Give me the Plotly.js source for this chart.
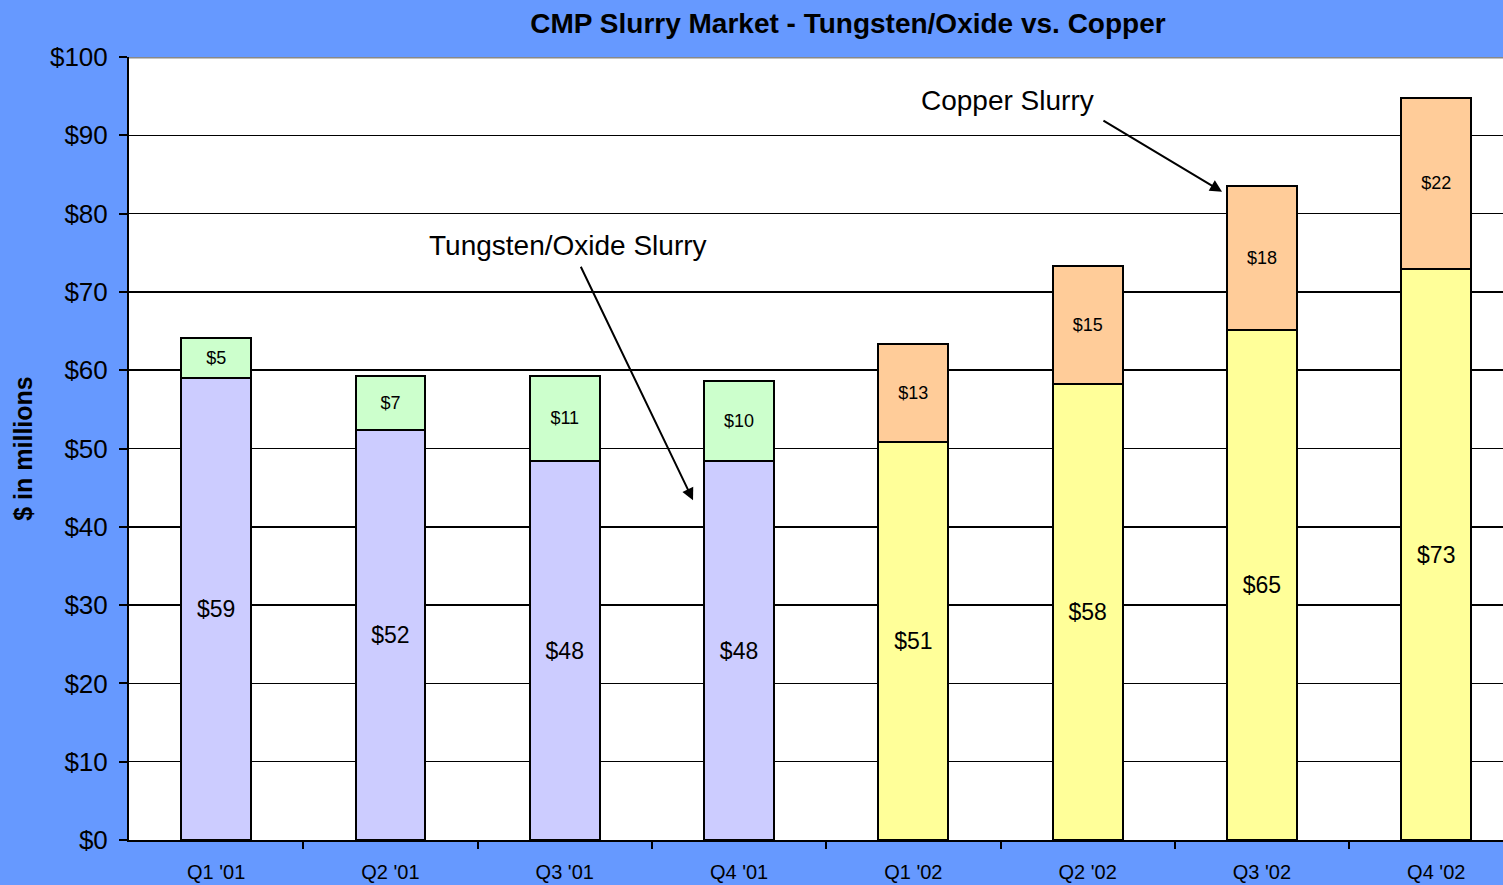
<!DOCTYPE html>
<html>
<head>
<meta charset="utf-8">
<script src="https://cdn.plot.ly/plotly-3.0.1.min.js"></script>
<style>
  html, body { margin: 0; padding: 0; background: #6699FF; }
  #chart { width: 1503px; height: 885px; }
</style>
</head>
<body>
<div id="chart"></div>
<script>
// ---- data ----
const quarters = ["Q1 '01", "Q2 '01", "Q3 '01", "Q4 '01", "Q1 '02", "Q2 '02", "Q3 '02", "Q4 '02"];
// Base segment
const baseValues = [59, 52.4, 48.4, 48.4, 50.8, 58.2, 65.1, 72.9];
// Top segment
const topValues = [5.1, 6.9, 10.9, 10.2, 12.6, 15.1, 18.4, 21.9];
const baseColors = ["#CCCCFF", "#CCCCFF", "#CCCCFF", "#CCCCFF", "#FFFF99", "#FFFF99", "#FFFF99", "#FFFF99"];
const topColors  = ["#CCFFCC", "#CCFFCC", "#CCFFCC", "#CCFFCC", "#FFCC99", "#FFCC99", "#FFCC99", "#FFCC99"];
const yTickVals = [0, 10, 20, 30, 40, 50, 60, 70, 80, 90, 100];
const yTickText = ["$0", "$10", "$20", "$30", "$40", "$50", "$60", "$70", "$80", "$90", "$100"];

const xIdx = quarters.map((_, i) => i);
const boundaries = quarters.map((_, i) => i + 0.5);

const FONT = "Liberation Sans, Arial, Helvetica, sans-serif";

const traceBase = {
  type: 'bar',
  x: xIdx,
  y: baseValues,
  width: 0.4,
  marker: { color: baseColors, line: { color: '#000000', width: 2 } },
  text: baseValues.map(v => '$' + Math.round(v)),
  textposition: 'inside',
  insidetextanchor: 'middle',
  textangle: 0,
  constraintext: 'none',
  textfont: { family: FONT, size: 23, color: '#000000' },
  hoverinfo: 'none',
  showlegend: false
};

const traceTop = {
  type: 'bar',
  x: xIdx,
  y: topValues,
  width: 0.4,
  marker: { color: topColors, line: { color: '#000000', width: 2 } },
  text: topValues.map(v => '$' + Math.round(v)),
  textposition: 'inside',
  insidetextanchor: 'middle',
  textangle: 0,
  constraintext: 'none',
  textfont: { family: FONT, size: 18, color: '#000000' },
  hoverinfo: 'none',
  showlegend: false
};

const layout = {
  width: 1503,
  height: 885,
  barmode: 'stack',
  paper_bgcolor: '#6699FF',
  plot_bgcolor: '#FFFFFF',
  margin: { l: 129, r: 0, t: 57, b: 45, pad: 0 },
  font: { family: FONT, color: '#000000' },
  title: {
    text: '<b>CMP Slurry Market - Tungsten/Oxide vs. Copper</b>',
    font: { family: FONT, size: 28, color: '#000000' },
    x: 848 / 1503, xanchor: 'center', xref: 'container',
    y: 1 - 23 / 885, yanchor: 'middle', yref: 'container'
  },
  xaxis: {
    range: [-0.5, -0.5 + 1374 / 174.3],
    tickmode: 'array',
    tickvals: xIdx,
    ticktext: quarters,
    ticks: '',
    ticklabelstandoff: 13,
    tickfont: { family: FONT, size: 20, color: '#000000' },
    showgrid: false,
    zeroline: false,
    showline: true,
    linecolor: '#000000',
    linewidth: 2,
    minor: { tickmode: 'array', tickvals: boundaries, ticks: 'outside', ticklen: 7, tickwidth: 2, tickcolor: '#000000', showgrid: false },
    fixedrange: true
  },
  yaxis: {
    range: [0, 100],
    tickmode: 'array',
    tickvals: yTickVals,
    ticktext: yTickText,
    ticks: 'outside',
    ticklen: 8,
    tickwidth: 2,
    tickcolor: '#000000',
    ticklabelstandoff: 6,
    tickfont: { family: FONT, size: 26, color: '#000000' },
    showgrid: true,
    gridcolor: '#000000',
    gridwidth: 1.5,
    zeroline: false,
    showline: true,
    linecolor: '#000000',
    linewidth: 2,
    title: { text: '<b>$ in millions</b>', font: { family: FONT, size: 25, color: '#000000' }, standoff: 10 },
    fixedrange: true
  },
  shapes: [
    { type: 'line', xref: 'paper', yref: 'y', x0: 0, x1: 1, y0: 100, y1: 100, line: { color: '#888888', width: 3 } }
  ],
  annotations: [
    { xref: 'x', yref: 'y', x: 2.019, y: 75.9, text: 'Tungsten/Oxide Slurry', showarrow: false,
      font: { family: FONT, size: 28, color: '#000000' }, xanchor: 'center', yanchor: 'middle' },
    { xref: 'x', yref: 'y', x: 4.543, y: 94.5, text: 'Copper Slurry', showarrow: false,
      font: { family: FONT, size: 28, color: '#000000' }, xanchor: 'center', yanchor: 'middle' },
    { xref: 'x', yref: 'y', axref: 'x', ayref: 'y', x: 2.736, y: 43.4, ax: 2.088, ay: 73.4, text: '',
      showarrow: true, arrowhead: 2, arrowsize: 1.2, arrowwidth: 2, arrowcolor: '#000000' },
    { xref: 'x', yref: 'y', axref: 'x', ayref: 'y', x: 5.771, y: 82.8, ax: 5.082, ay: 92.0, text: '',
      showarrow: true, arrowhead: 2, arrowsize: 1.2, arrowwidth: 2, arrowcolor: '#000000' }
  ]
};

Plotly.newPlot('chart', [traceBase, traceTop], layout, { displayModeBar: false, staticPlot: true });
</script>
</body>
</html>
